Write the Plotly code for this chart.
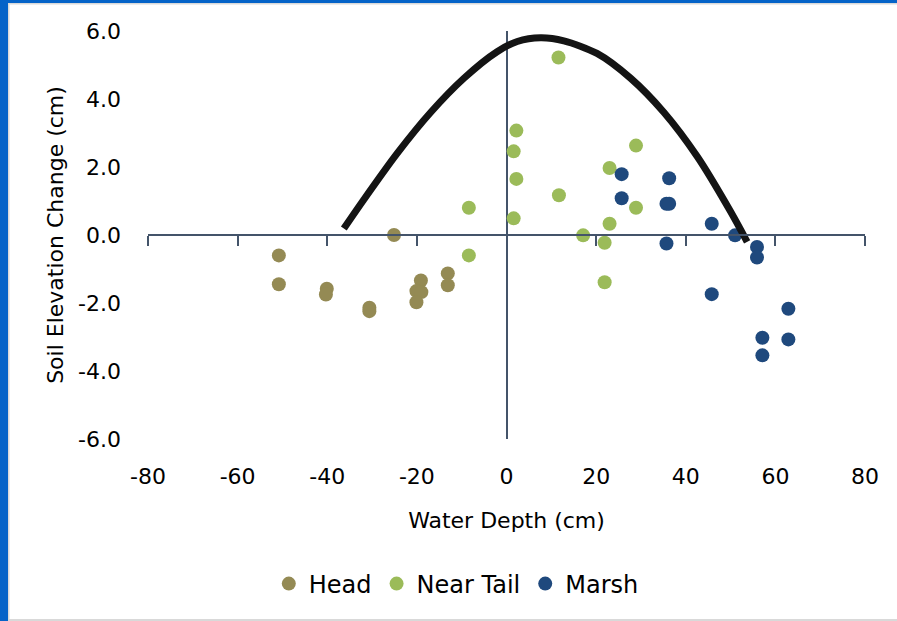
import plotly.graph_objects as go

# ---------------- data ----------------
head_x = [-50.8, -50.8, -40.1, -40.3, -30.6, -30.6, -25.1, -19.1, -20.1, -19.0, -20.1, -13.1, -13.1]
head_y = [-0.60, -1.45, -1.58, -1.75, -2.14, -2.24, 0.00, -1.34, -1.65, -1.68, -1.98, -1.13, -1.48]

near_x = [-8.4, -8.4, 2.2, 1.6, 2.2, 1.6, 11.6, 11.7, 17.1, 23.0, 23.0, 21.9, 21.9, 28.9, 28.9]
near_y = [0.80, -0.60, 3.07, 2.46, 1.65, 0.49, 5.22, 1.17, -0.01, 1.97, 0.33, -0.23, -1.39, 2.63, 0.80]

marsh_x = [25.7, 25.7, 36.3, 35.7, 36.3, 35.7, 45.8, 45.8, 51.0, 55.9, 55.9, 57.1, 57.1, 62.9, 62.9]
marsh_y = [1.79, 1.08, 1.67, 0.92, 0.92, -0.25, 0.33, -1.74, -0.01, -0.35, -0.66, -3.02, -3.54, -2.17, -3.07]

curve_x = [-36.3, -31.9, -24.4, -16.9, -9.5, -2.1, 2.4, 7.6, 12.8, 20.2, 27.7, 35.1, 42.6, 50.0, 53.7]
curve_y = [0.19, 1.03, 2.40, 3.61, 4.61, 5.39, 5.69, 5.80, 5.71, 5.34, 4.61, 3.61, 2.30, 0.69, -0.20]

x_ticks = [-80, -60, -40, -20, 0, 20, 40, 60, 80]
x_tick_labels = ["-80", "-60", "-40", "-20", "0", "20", "40", "60", "80"]
y_ticks = [-6, -4, -2, 0, 2, 4, 6]
y_tick_labels = ["-6.0", "-4.0", "-2.0", "0.0", "2.0", "4.0", "6.0"]

x_range = [-80, 80]
y_range = [-6, 6]

# ---------------- style ----------------
FONT = "DejaVu Sans"
AXIS_COLOR = "#44546A"
W, H = 897, 621
ML, MR, MT, MB = 148, 32, 31, 182
PW, PH = W - ML - MR, H - MT - MB


def px_x(p):
    return (p - ML) / PW


def px_y(p):
    return (H - MB - p) / PH


fig = go.Figure()
fig.add_trace(go.Scatter(x=curve_x, y=curve_y, xaxis="x2", yaxis="y", mode="lines",
                         line=dict(color="#141414", width=7, shape="spline", smoothing=0.8),
                         showlegend=False, hoverinfo="skip"))
fig.add_trace(go.Scatter(x=head_x, y=head_y, mode="markers", name="Head",
                         marker=dict(color="#948A54", size=14, line=dict(width=0))))
fig.add_trace(go.Scatter(x=near_x, y=near_y, mode="markers", name="Near Tail",
                         marker=dict(color="#9BBB59", size=14, line=dict(width=0))))
fig.add_trace(go.Scatter(x=marsh_x, y=marsh_y, mode="markers", name="Marsh",
                         marker=dict(color="#1F497D", size=14, line=dict(width=0))))

zero_pos = (0 - y_range[0]) / (y_range[1] - y_range[0])

fig.update_layout(
    width=W, height=H,
    margin=dict(l=ML, r=MR, t=MT, b=MB),
    paper_bgcolor="white", plot_bgcolor="white",
    font=dict(family=FONT, size=22, color="#000000"),
    xaxis=dict(range=x_range, tickvals=x_ticks, ticktext=x_tick_labels,
               showgrid=False, showline=False, ticks="",
               zeroline=True, zerolinecolor=AXIS_COLOR, zerolinewidth=1.5,
               ticklabelstandoff=22,
               title=dict(text="Water Depth (cm)", font=dict(size=22), standoff=24)),
    xaxis2=dict(range=x_range, overlaying="x", anchor="free", position=zero_pos,
                side="bottom", tickvals=x_ticks, showticklabels=False,
                showgrid=False, zeroline=False, showline=True,
                linecolor=AXIS_COLOR, linewidth=1.5,
                ticks="outside", ticklen=10, tickwidth=1.5, tickcolor=AXIS_COLOR),
    yaxis=dict(range=y_range, tickvals=y_ticks, ticktext=y_tick_labels,
               showgrid=False, showline=False, ticks="", zeroline=False,
               ticklabelstandoff=26,
               title=dict(text="Soil Elevation Change (cm)", font=dict(size=22), standoff=8)),
    legend=dict(orientation="h", x=0.43, xanchor="center", y=px_y(584), yanchor="middle",
                font=dict(size=24), bgcolor="rgba(0,0,0,0)"),
    shapes=[
        dict(type="rect", xref="paper", yref="paper", x0=px_x(0), x1=px_x(8),
             y0=px_y(H), y1=px_y(0), fillcolor="#0563C8", line=dict(width=0), layer="above"),
        dict(type="rect", xref="paper", yref="paper", x0=px_x(0), x1=px_x(W),
             y0=px_y(3), y1=px_y(0), fillcolor="#0563C8", line=dict(width=0), layer="above"),
        dict(type="rect", xref="paper", yref="paper", x0=px_x(8), x1=px_x(9.5),
             y0=px_y(H), y1=px_y(3), fillcolor="#D9D9D9", line=dict(width=0), layer="above"),
        dict(type="rect", xref="paper", yref="paper", x0=px_x(8), x1=px_x(W),
             y0=px_y(4.5), y1=px_y(3), fillcolor="#D9D9D9", line=dict(width=0), layer="above"),
        dict(type="rect", xref="paper", yref="paper", x0=px_x(8), x1=px_x(W),
             y0=px_y(H), y1=px_y(619), fillcolor="#D9D9D9", line=dict(width=0), layer="above"),
    ],
)

fig.write_html("out.html")
